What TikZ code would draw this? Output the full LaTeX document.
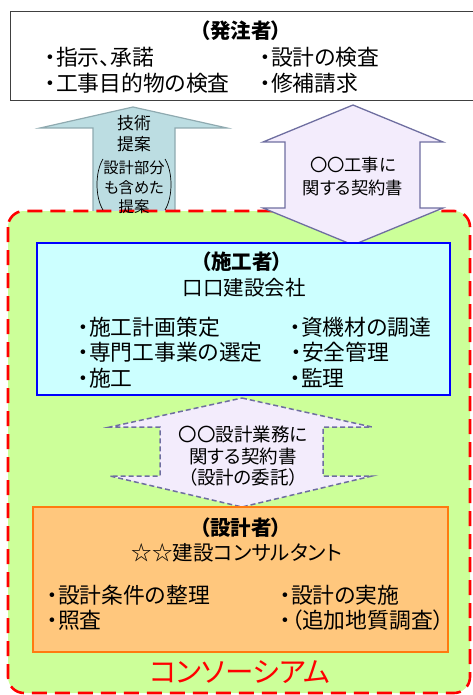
\documentclass[tikz,border=0pt]{standalone}
\usepackage{fontspec}
\setmainfont[RawFeature=+palt]{Noto Sans CJK JP}
\definecolor{topborder}{HTML}{404040}
\definecolor{lafill}{HTML}{BCDDE2}
\definecolor{ladraw}{HTML}{8FAAB0}
\definecolor{lavfill}{HTML}{F3ECFC}
\definecolor{lavdraw}{HTML}{6E6EA0}
\definecolor{consgreen}{HTML}{CCFF99}
\definecolor{consred}{HTML}{FF0000}
\definecolor{cyanfill}{HTML}{CCFFFF}
\definecolor{bluedraw}{HTML}{0000FF}
\definecolor{orfill}{HTML}{FFC77D}
\definecolor{ordraw}{HTML}{FF7A10}
\begin{document}
\begin{tikzpicture}[x={(1pt,0pt)},y={(0pt,-1pt)},
  item/.style={inner sep=0pt, anchor=west, font=\fontsize{21.8}{25}\selectfont},
  ttl/.style={inner sep=0pt, font=\fontsize{20.5}{24}\selectfont\bfseries},
  sub/.style={inner sep=0pt, font=\fontsize{20.5}{24}\selectfont},
  arrtxt/.style={inner sep=0pt, align=center},
]
\useasboundingbox (0,0) rectangle (472,695);
% top box (orderer)
\draw[topborder, line width=1pt, fill=white] (10,12) rectangle (474,101);
\node[ttl] (ordT) at (241,31) {（発注者）};
\node[item] (o1) at (45,57) {・指示、承諾};
\node[item] (o2) at (260,57) {・設計の検査};
\node[item] (o3) at (45,83) {・工事目的物の検査};
\node[item] (o4) at (260,83) {・修補請求};
% left up arrow (technical proposal)
\draw[ladraw, line width=1.2pt, fill=lafill]
  (133,107) -- (227,128) -- (175,128) -- (175,212) -- (93,212) -- (93,128) -- (40,128) -- cycle;
% consortium area
\draw[consred, fill=consgreen, line width=2.6pt, dash pattern=on 15pt off 8pt, rounded corners=16pt]
  (8,211) rectangle (470,693);
% brackets in left arrow
\draw[black, line width=0.7pt] (103,159) .. controls (95,172) and (95,197) .. (103,210);
\draw[black, line width=0.7pt] (165,159) .. controls (173,172) and (173,197) .. (165,210);
\node[arrtxt, font=\fontsize{16.8}{21}\selectfont] (tp) at (134,134) {技術\\提案};
\node[arrtxt, font=\fontsize{15.3}{19.5}\selectfont] (tp2) at (134,187.5) {設計部分\\も含めた\\提案};
% right double arrow (construction contract)
\draw[lavdraw, line width=1.3pt, fill=lavfill]
  (353,105) -- (443,142) -- (420,142) -- (420,208) -- (443,208) -- (353,245)
  -- (263,208) -- (285,208) -- (285,142) -- (263,142) -- cycle;
\node[arrtxt, font=\fontsize{17.3}{23}\selectfont] (cc) at (353,176.5) {〇〇工事に\\関する契約書};
% constructor box
\draw[bluedraw, line width=1.8pt, fill=cyanfill] (37,243) rectangle (450,395);
\node[ttl] (conT) at (242,262) {（施工者）};
\node[sub] (conN) at (244,288) {口口建設会社};
\node[item] (c1) at (78,327) {・施工計画策定};
\node[item] (c2) at (78,352) {・専門工事業の選定};
\node[item] (c3) at (78,378) {・施工};
\node[item] (c4) at (290,327) {・資機材の調達};
\node[item] (c5) at (291,352) {・安全管理};
\node[item] (c6) at (290,378) {・監理};
% middle dashed double arrow (design contract)
\draw[lavdraw, line width=1.5pt, fill=lavfill, dash pattern=on 5pt off 3pt]
  (242,398) -- (372,427) -- (323,427) -- (323,476) -- (372,476) -- (242,507)
  -- (110,476) -- (160,476) -- (160,427) -- (110,427) -- cycle;
\node[arrtxt, font=\fontsize{18.5}{21.5}\selectfont] (dc) at (243,456.5) {〇〇設計業務に\\関する契約書\\（設計の委託）};
% designer box
\draw[ordraw, line width=1.8pt, fill=orfill] (33,507) rectangle (448,652);
\node[ttl] (desT) at (241,528) {（設計者）};
\node[sub] (desN) at (237,553) {☆☆建設コンサルタント};
\node[item] (d1) at (47,595) {・設計条件の整理};
\node[item] (d2) at (47,620) {・照査};
\node[item] (d3) at (280,595) {・設計の実施};
\node[item] (d4) at (280,620) {・（追加地質調査）};
\node[inner sep=0pt, text=consred, font=\fontsize{28.5}{32}\selectfont] (cons) at (240,672) {コンソーシアム};
\end{tikzpicture}
\end{document}
